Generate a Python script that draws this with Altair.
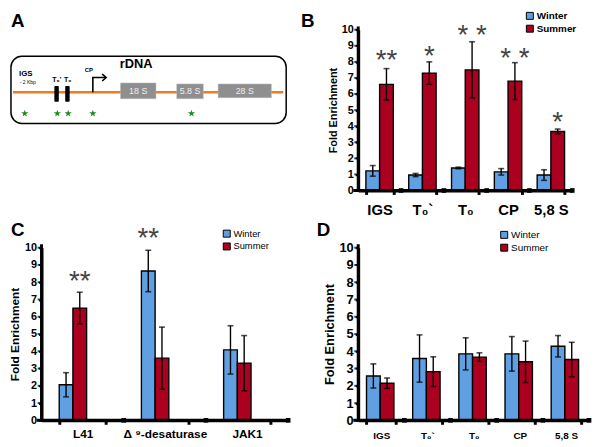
import altair as alt
import pandas as pd

FONT = "Liberation Sans"
seasons = ["Winter", "Summer"]
season_colors = ["#5f9fe2", "#ab0020"]

# ---------------- Panel B: rDNA regions ----------------
b_groups = ["IGS", "T₀`", "T₀", "CP", "5,8 S"]
b_winter = [1.22, 0.96, 1.40, 1.16, 0.96]
b_winter_err = [0.33, 0.10, 0.05, 0.20, 0.33]
b_summer = [6.60, 7.30, 7.50, 6.80, 3.67]
b_summer_err = [0.98, 0.70, 1.75, 1.15, 0.15]
b_star_text = ["**", "*", "* *", "* *", "*"]
b_star_y = [8.45, 8.7, 10.0, 8.6, 4.6]
b_star_season = ["Summer", "Summer", "Summer", "Summer", "Summer"]

# ---------------- Panel C: genes ----------------
c_groups = ["L41", "Δ ⁹-desaturase", "JAK1"]
c_winter = [2.06, 8.65, 4.08]
c_winter_err = [0.70, 1.20, 1.40]
c_summer = [6.50, 3.60, 3.31]
c_summer_err = [0.92, 1.80, 1.60]
c_star_groups = ["L41", "Δ ⁹-desaturase"]
c_star_text = ["**", "**"]
c_star_y = [8.4, 10.9]
c_star_season = ["Summer", "Winter"]

# ---------------- Panel D: rDNA regions ----------------
d_groups = ["IGS", "T₀`", "T₀", "CP", "5,8 S"]
d_winter = [2.57, 3.58, 3.85, 3.85, 4.29]
d_winter_err = [0.70, 1.37, 0.93, 1.00, 0.62]
d_summer = [2.15, 2.82, 3.66, 3.39, 3.52]
d_summer_err = [0.30, 0.86, 0.25, 1.20, 1.00]

# axis line extent and tick values (value units)
axis_lo, axis_hi = [0.0], [10.2]
y_ticks = list(range(11))

# ---------------- Panel A: rDNA diagram (diagram units) ----------------
box_x, box_x2, box_y, box_y2 = [9], [288], [52], [120]
backbone_x, backbone_y = [11, 285], [88.5, 88.5]
tsite_x, tsite_x2 = [53, 64], [57.5, 68.5]
tsite_y, tsite_y2 = [82, 82], [98, 98]
rrna_names = ["18 S", "5.8 S", "28 S"]
rrna_x, rrna_x2 = [120, 177, 219], [156, 204, 273]
rrna_y, rrna_y2 = [79, 80, 80], [95, 95, 94]
bold_labels = ["rDNA", "IGS", "T₀'", "T₀", "CP"]
bold_label_x = [136, 24, 55.5, 66.5, 88]
bold_label_y = [60, 69.5, 76, 76, 66]
bold_label_size = [13, 8, 7, 7, 6]
small_labels = ["- 2 Kbp"]
small_label_x, small_label_y = [26], [78]
arrow_seg = [0, 0, 0, 1, 1, 1]
arrow_x = [92, 92, 105, 101.5, 105.5, 101.5]
arrow_y = [88.5, 73.5, 73.5, 70, 73.5, 77]
star_x = [23, 56, 67, 92, 192]
star_y = [110, 110, 110, 110, 110]

STAR = ("M0,-1L0.2245,-0.309L0.951,-0.309L0.363,0.118L0.588,0.809L0,0.382"
        "L-0.588,0.809L-0.363,0.118L-0.951,-0.309L-0.2245,-0.309Z")


def letter_layer(letter, lx, ly):
    return alt.Chart(pd.DataFrame({"t": [letter]})).mark_text(
        font=FONT, fontSize=19, fontWeight="bold", align="left", baseline="top", color="black"
    ).encode(text="t:N", x=alt.value(lx), y=alt.value(ly))


def bar_df(groups, winter, werr, summer, serr):
    rows = []
    for g, w, we, s, se in zip(groups, winter, werr, summer, serr):
        rows.append(dict(group=g, season="Winter", value=w, lo=w - we, hi=w + we))
        rows.append(dict(group=g, season="Summer", value=s, lo=s - se, hi=s + se))
    return pd.DataFrame(rows)


def bar_panel(letter, lpos, groups, df, star_df, width, height, pin, pout,
              xfs, xpad, yfs, tfs, leg, leg_fs, leg_bold):
    xscale = alt.Scale(domain=groups, paddingInner=pin, paddingOuter=pout)
    xaxis = alt.Axis(title=None, labelFontSize=xfs, labelPadding=xpad, domain=True,
                     domainColor="black", domainWidth=3, domainOpacity=1,
                     ticks=True, tickColor="black", tickWidth=3, tickSize=4,
                     tickOpacity=1, tickBand="extent", zindex=2)
    xoff = alt.XOffset("season:N", sort=seasons,
                       scale=alt.Scale(domain=seasons, paddingInner=0, paddingOuter=0))
    yscale = alt.Scale(domain=[0, 10], nice=False)
    yaxis = alt.Axis(title="Fold Enrichment", titleFontSize=tfs, values=list(range(11)),
                     labelFontSize=yfs, domain=True, domainColor="black", domainWidth=3,
                     domainOpacity=1, ticks=True, tickColor="black", tickWidth=2,
                     tickSize=3, tickOpacity=1, zindex=2)
    x = alt.X("group:N", sort=groups, scale=xscale, axis=xaxis)
    base = alt.Chart(df).encode(x=x, xOffset=xoff)
    bars = base.mark_bar(stroke="black", strokeWidth=1.4).encode(
        y=alt.Y("value:Q", scale=yscale, axis=yaxis),
        color=alt.Color("season:N", scale=alt.Scale(domain=seasons, range=season_colors),
                        legend=alt.Legend(orient="none", legendX=leg[0], legendY=leg[1],
                                          labelFontSize=leg_fs,
                                          labelFontWeight="bold" if leg_bold else "normal")),
    )
    rule = base.mark_rule(color="black", strokeWidth=1.4).encode(
        y=alt.Y("lo:Q", scale=yscale, axis=yaxis), y2="hi:Q")
    cap_lo = base.mark_tick(color="black", thickness=1.6, size=6).encode(
        y=alt.Y("lo:Q", scale=yscale, axis=yaxis))
    cap_hi = base.mark_tick(color="black", thickness=1.6, size=6).encode(
        y=alt.Y("hi:Q", scale=yscale, axis=yaxis))
    ext = pd.DataFrame({"lo": axis_lo, "hi": axis_hi})
    yline = alt.Chart(ext).mark_rule(color="black", strokeWidth=3).encode(
        x=alt.value(0), y=alt.Y("lo:Q", scale=yscale, axis=yaxis), y2="hi:Q")
    xline = alt.Chart(ext).mark_rule(color="black", strokeWidth=3).encode(
        x=alt.value(-5), x2=alt.value(width), y=alt.Y("lo:Q", scale=yscale, axis=yaxis))
    yt = alt.Chart(pd.DataFrame({"lo": y_ticks})).mark_tick(
        color="black", thickness=2, size=4).encode(
        x=alt.value(-2), y=alt.Y("lo:Q", scale=yscale, axis=yaxis))
    # group boundary marks on the x axis line (half a padding step outside each band)
    gap = width / (len(groups) - pin + 2 * pout) * pout
    bdf = pd.DataFrame({"group": groups[1:], "lo": [0.0] * (len(groups) - 1)})
    edf = pd.DataFrame({"group": groups[-1:], "lo": [0.0]})
    bmark = alt.Chart(bdf).mark_square(color="black", size=22, opacity=1, xOffset=-gap).encode(
        x=alt.X("group:N", sort=groups, scale=xscale, axis=xaxis, bandPosition=0),
        y=alt.Y("lo:Q", scale=yscale, axis=yaxis))
    emark = alt.Chart(edf).mark_square(color="black", size=22, opacity=1, xOffset=gap).encode(
        x=alt.X("group:N", sort=groups, scale=xscale, axis=xaxis, bandPosition=1),
        y=alt.Y("lo:Q", scale=yscale, axis=yaxis))
    layers = [bars, rule, cap_lo, cap_hi, yline, xline, yt, bmark, emark]
    if star_df is not None:
        stars = alt.Chart(star_df).mark_text(
            font=FONT, fontSize=28, color="#444", baseline="middle", dy=7
        ).encode(x=x, xOffset=xoff,
                 y=alt.Y("y:Q", scale=yscale, axis=yaxis),
                 text="t:N")
        layers.append(stars)
    layers.append(letter_layer(letter, *lpos))
    return alt.layer(*layers).properties(width=width, height=height)


# Panel B
df_b = bar_df(b_groups, b_winter, b_winter_err, b_summer, b_summer_err)
stars_b = pd.DataFrame({"group": b_groups, "season": b_star_season, "y": b_star_y, "t": b_star_text})
panel_b = bar_panel("B", (-58, -18), b_groups, df_b, stars_b, 217, 163, 0.36, 0.18,
                    15, 8, 11, 11, (169, -19), 10, True)

# Panel C
df_c = bar_df(c_groups, c_winter, c_winter_err, c_summer, c_summer_err)
stars_c = pd.DataFrame({"group": c_star_groups, "season": c_star_season, "y": c_star_y, "t": c_star_text})
panel_c = bar_panel("C", (-31, -27), c_groups, df_c, stars_c, 250, 175, 0.43, 0.215,
                    12, 4, 11, 12, (183, -19), 9.5, False)

# Panel D
df_d = bar_df(d_groups, d_winter, d_winter_err, d_summer, d_summer_err)
panel_d = bar_panel("D", (-42, -27), d_groups, df_d, None, 234, 175, 0.36, 0.18,
                    10, 6, 13, 13, (143, -18), 10, False)

# Panel A diagram
ax = alt.Scale(domain=[40, 290])
ay = alt.Scale(domain=[25, 188], reverse=True)
NX = dict(axis=None)
box = alt.Chart(pd.DataFrame({"x": box_x, "x2": box_x2, "y": box_y, "y2": box_y2})).mark_rect(
    fill="white", stroke="black", strokeWidth=1.5, cornerRadius=11
).encode(x=alt.X("x:Q", scale=ax, **NX), x2="x2:Q", y=alt.Y("y:Q", scale=ay, **NX), y2="y2:Q")
backbone = alt.Chart(pd.DataFrame({"x": backbone_x, "y": backbone_y})).mark_line(
    color="#f47a20", strokeWidth=2.5
).encode(x=alt.X("x:Q", scale=ax, **NX), y=alt.Y("y:Q", scale=ay, **NX))
tsites = alt.Chart(pd.DataFrame({"x": tsite_x, "x2": tsite_x2, "y": tsite_y, "y2": tsite_y2})).mark_rect(
    color="black", cornerRadius=1
).encode(x=alt.X("x:Q", scale=ax, **NX), x2="x2:Q", y=alt.Y("y:Q", scale=ay, **NX), y2="y2:Q")
rrna_df = pd.DataFrame({"n": rrna_names, "x": rrna_x, "x2": rrna_x2, "y": rrna_y, "y2": rrna_y2})
rrna_df["xc"] = (rrna_df["x"] + rrna_df["x2"]) / 2
rrna_df["yc"] = (rrna_df["y"] + rrna_df["y2"]) / 2
rrna = alt.Chart(rrna_df).mark_rect(fill="#8f8f8f", stroke="#bbbbbb", strokeWidth=0.5).encode(
    x=alt.X("x:Q", scale=ax, **NX), x2="x2:Q", y=alt.Y("y:Q", scale=ay, **NX), y2="y2:Q")
rrna_txt = alt.Chart(rrna_df).mark_text(font=FONT, fontSize=9, color="#eeeeee").encode(
    x=alt.X("xc:Q", scale=ax, **NX), y=alt.Y("yc:Q", scale=ay, **NX), text="n:N")
blab = alt.Chart(pd.DataFrame({"t": bold_labels, "x": bold_label_x, "y": bold_label_y,
                               "s": bold_label_size})).mark_text(
    font=FONT, fontWeight="bold", color="black"
).encode(x=alt.X("x:Q", scale=ax, **NX), y=alt.Y("y:Q", scale=ay, **NX), text="t:N",
         size=alt.Size("s:Q", scale=None))
slab = alt.Chart(pd.DataFrame({"t": small_labels, "x": small_label_x, "y": small_label_y})).mark_text(
    font=FONT, fontSize=5, color="black"
).encode(x=alt.X("x:Q", scale=ax, **NX), y=alt.Y("y:Q", scale=ay, **NX), text="t:N")
arrow = alt.Chart(pd.DataFrame({"seg": arrow_seg, "o": list(range(len(arrow_x))),
                                "x": arrow_x, "y": arrow_y})).mark_line(
    color="black", strokeWidth=1.6
).encode(x=alt.X("x:Q", scale=ax, **NX), y=alt.Y("y:Q", scale=ay, **NX),
         detail="seg:N", order="o:Q")
gstars = alt.Chart(pd.DataFrame({"x": star_x, "y": star_y})).mark_point(
    shape=STAR, filled=True, color="#1f8a1f", size=60, opacity=1
).encode(x=alt.X("x:Q", scale=ax, **NX), y=alt.Y("y:Q", scale=ay, **NX))
panel_a = alt.layer(box, backbone, tsites, rrna, rrna_txt, blab, slab, arrow, gstars,
                    letter_layer("A", -31, -18)).properties(width=250, height=163)

chart = alt.concat(
    panel_a, panel_b, panel_c, panel_d, columns=2,
    spacing={"row": 58, "column": 71}, bounds="flush", align="each"
).resolve_scale(color="independent").properties(padding=0).configure_view(
    stroke=None
).configure_axis(
    labelFont=FONT, labelFontWeight="bold", labelColor="black", labelOverlap=False,
    titleFont=FONT, titleFontWeight="bold", titleColor="black", grid=False
).configure_axisY(
    titlePadding=3, labelPadding=2
).configure_axisX(
    labelAngle=0
).configure_legend(
    title=None, symbolType="square", symbolSize=50, symbolStrokeColor="black",
    symbolStrokeWidth=1, labelFont=FONT, labelColor="black", rowPadding=1,
    padding=0, labelOffset=2
)

chart.save("out.html", embed_options={"renderer": "svg", "actions": False})
